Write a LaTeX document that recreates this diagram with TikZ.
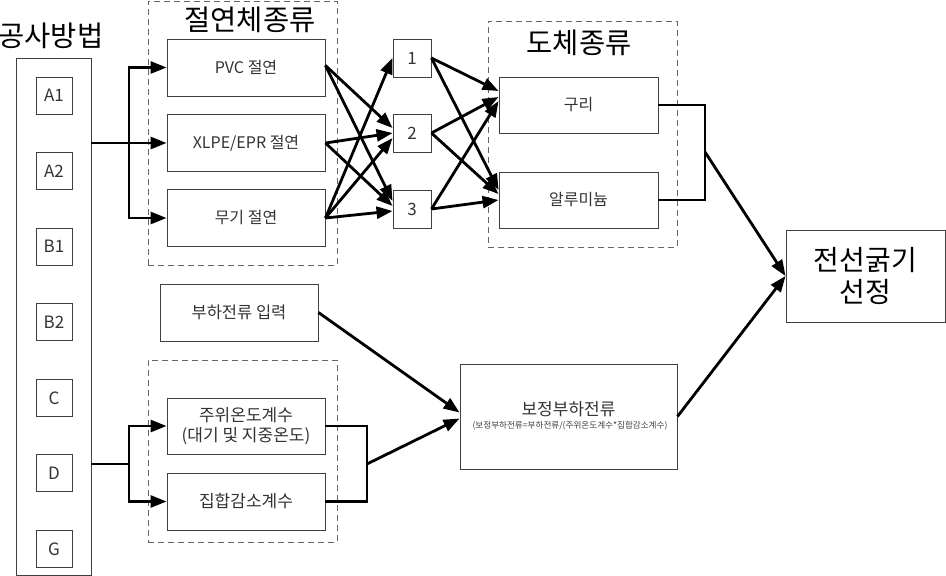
\documentclass[tikz,border=0pt]{standalone}
\usepackage{fontspec}
\setmainfont{Noto Sans CJK KR}
\usetikzlibrary{arrows.meta,calc}
\begin{document}
\begin{tikzpicture}[x=1pt,y=-1pt,
  box/.style={draw=black!75, line width=0.9pt, rectangle, inner sep=0pt, align=center, font=\fontsize{16}{20}\selectfont, text=black!80},
  smallbox/.style={box, minimum width=36pt, minimum height=37pt, font=\fontsize{17}{19}\selectfont},
  grpbox/.style={draw=black!60, dash pattern=on 6pt off 4pt, line width=0.9pt, rectangle, inner sep=0pt},
  ttl/.style={font=\fontsize{28.5}{30}\selectfont, inner sep=0pt},
  ln/.style={line width=2.8pt, line join=miter},
  arr/.style={ln, -{Triangle[length=16pt,width=12pt]}},
]
\useasboundingbox (0,0) rectangle (946,576);

% left column
\node[ttl] (t1) at (51,36) {공사방법};
\node[box, minimum width=75pt, minimum height=517pt] (method) at (53.5,316.5) {};
\node[smallbox] (a1) at (54,95.5) {A1};
\node[smallbox] (a2) at (54,171) {A2};
\node[smallbox] (b1) at (54,246.5) {B1};
\node[smallbox] (b2) at (54,322) {B2};
\node[smallbox] (c) at (54,398) {C};
\node[smallbox] (d) at (54,473) {D};
\node[smallbox] (g) at (54,549) {G};

% insulation group
\node[grpbox, minimum width=189pt, minimum height=264pt] (insg) at (242.5,133) {};
\node[ttl] (t2) at (250,20) {절연체종류};
\node[box, minimum width=158pt, minimum height=57pt] (pvc) at (246,67.5) {PVC 절연};
\node[box, minimum width=158pt, minimum height=57pt] (xlpe) at (246,143) {XLPE/EPR 절연};
\node[box, minimum width=158pt, minimum height=57pt] (mugi) at (246,218) {무기 절연};

% numbers
\node[smallbox, minimum width=38pt, minimum height=38pt] (n1) at (412,58) {1};
\node[smallbox, minimum width=38pt, minimum height=38pt] (n2) at (412,133) {2};
\node[smallbox, minimum width=38pt, minimum height=38pt] (n3) at (412,209) {3};

% conductor group
\node[grpbox, minimum width=189pt, minimum height=226pt] (condg) at (582.5,134) {};
\node[ttl] (t3) at (579,43) {도체종류};
\node[box, minimum width=159pt, minimum height=56pt] (cu) at (578.5,105) {구리};
\node[box, minimum width=159pt, minimum height=56pt] (al) at (578.5,200) {알루미늄};

% selection
\node[box, minimum width=159pt, minimum height=92pt, font=\fontsize{28}{32}\selectfont, text=black] (sel) at (865.5,276) {전선굵기\\선정};

% load
\node[box, minimum width=158pt, minimum height=57pt, font=\fontsize{16.5}{20}\selectfont] (load) at (239,312.5) {부하전류 입력};
\node[grpbox, minimum width=189pt, minimum height=182pt] (factg) at (242.5,451) {};
\node[box, minimum width=158pt, minimum height=56pt, font=\fontsize{17}{20}\selectfont] (temp) at (246,426) {주위온도계수\\(대기 및 지중온도)};
\node[box, minimum width=158pt, minimum height=57pt, font=\fontsize{17}{20}\selectfont] (grp) at (246,501.5) {집합감소계수};

% corrected load current
\node[box, minimum width=217pt, minimum height=105pt] (corr) at (568.5,416.5) {};
\node[font=\fontsize{17}{19}\selectfont, text=black!80, inner sep=0pt] (corrt) at (568.5,409) {보정부하전류};
\node[font=\fontsize{8.6}{9}\selectfont, text=black!75, inner sep=0pt] (corrs) at (570,426) {(보정부하전류=부하전류/(주위온도계수*집합감소계수)};

% connectors: method -> insulation
\coordinate (j1) at (129,143);
\draw[ln] (method.east |- j1) -- (j1);
\draw[arr] (j1) |- (pvc.west);
\draw[arr] (j1) -- (xlpe.west);
\draw[arr] (j1) |- (mugi.west);

% insulation -> numbers
\draw[arr] ($(pvc.east)+(0,-2)$) -- ($(n2.west)+(0,-5)$);
\draw[arr] ($(pvc.east)+(0,-2)$) -- ($(n3.west)+(0,-8)$);
\draw[arr] (xlpe.east) -- ($(n2.west)+(0,0)$);
\draw[arr] (xlpe.east) -- ($(n3.west)+(0,-3)$);
\draw[arr] (mugi.east) -- ($(n1.west)+(0,0)$);
\draw[arr] (mugi.east) -- ($(n2.west)+(0,5)$);
\draw[arr] (mugi.east) -- ($(n3.west)+(0,2)$);

% numbers -> conductors
\draw[arr] (n1.east) -- ($(cu.west)+(0,-14)$);
\draw[arr] (n2.east) -- ($(cu.west)+(0,-8)$);
\draw[arr] (n3.east) -- ($(cu.west)+(0,-4)$);
\draw[arr] (n1.east) -- ($(al.west)+(0,-10)$);
\draw[arr] (n2.east) -- ($(al.west)+(0,-6)$);
\draw[arr] (n3.east) -- ($(al.west)+(0,0)$);

% conductors -> selection
\coordinate (j3) at (705,152);
\draw[ln] (cu.east) -| (j3) |- (al.east);
\draw[arr] (j3) -- (sel.west);

% method -> factors
\coordinate (j2) at (129,464);
\draw[ln] (method.east |- j2) -- (j2);
\draw[arr] (j2) |- (temp.west);
\draw[arr] (j2) |- (grp.west);

% factors -> corrected
\coordinate (j4) at (367,464);
\draw[ln] (temp.east) -| (j4) |- (grp.east);
\draw[arr] (j4) -- ($(corr.west)+(0,2)$);
\draw[arr] (load.east) -- ($(corr.west)+(0,-4)$);

% corrected -> selection
\draw[arr] (corr.east) -- (sel.west);
\end{tikzpicture}
\end{document}
